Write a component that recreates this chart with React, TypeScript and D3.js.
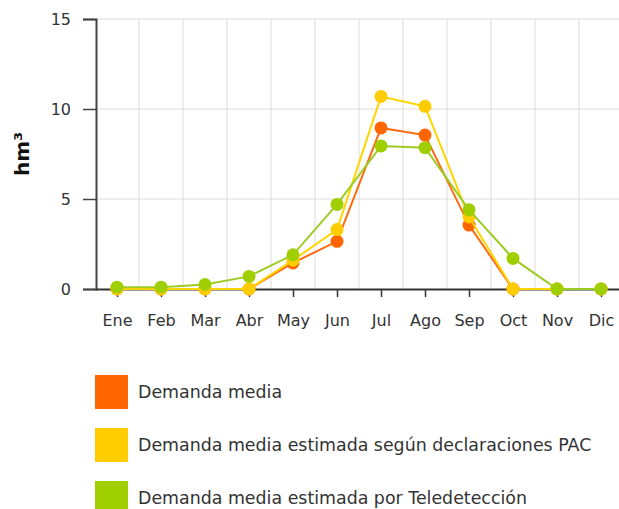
import * as d3 from "d3";
import { useEffect, useRef } from "react";

const months = ["Ene", "Feb", "Mar", "Abr", "May", "Jun", "Jul", "Ago", "Sep", "Oct", "Nov", "Dic"];
const demandaMedia = [0, 0, 0, 0, 1.45, 2.65, 8.95, 8.55, 3.55, 0, 0, 0];
const demandaPAC = [0, 0, 0, 0, 1.6, 3.3, 10.7, 10.15, 4.0, 0, 0, 0];
const demandaTele = [0.1, 0.1, 0.25, 0.7, 1.9, 4.7, 7.95, 7.85, 4.4, 1.7, 0, 0];
const yTicks = [0, 5, 10, 15];

const seriesNames = [
  "Demanda media",
  "Demanda media estimada según declaraciones PAC",
  "Demanda media estimada por Teledetección",
];
const seriesColors = ["#ff6600", "#ffcc00", "#9fcf00"];
const lineColors = ["#ff6a10", "#ffd500", "#9ccc22"];

const width = 619;
const height = 509;
const margin = { top: 19, left: 96, bottom: 220 };
const plotBottom = 289;

const Chart = () => {
  const ref = useRef<SVGSVGElement>(null);

  useEffect(() => {
    const svg = d3.select(ref.current);
    svg.selectAll("*").remove();

    const x = d3.scalePoint().domain(months).range([117, 601]);
    const step = x.step();
    const y = d3.scaleLinear().domain([0, 15]).range([plotBottom, margin.top]);

    // grid
    const grid = svg.append("g");
    grid.selectAll("line.h")
      .data(yTicks.filter((d) => d > 0))
      .join("line")
      .attr("x1", margin.left)
      .attr("x2", width)
      .attr("y1", (d) => y(d))
      .attr("y2", (d) => y(d))
      .attr("stroke", "#dcdcdc")
      .attr("stroke-width", 1);
    grid.selectAll("line.v")
      .data(months.slice(0, -1))
      .join("line")
      .attr("x1", (d) => (x(d) as number) + step / 2)
      .attr("x2", (d) => (x(d) as number) + step / 2)
      .attr("y1", margin.top)
      .attr("y2", plotBottom)
      .attr("stroke", "#dcdcdc")
      .attr("stroke-width", 1);

    // y axis
    const yAxis = d3.axisLeft(y).tickValues(yTicks).tickSize(13).tickPadding(12);
    const gy = svg.append("g")
      .attr("transform", `translate(${margin.left},0)`)
      .call(yAxis);
    gy.select(".domain").attr("stroke", "#444").attr("stroke-width", 2);
    gy.selectAll(".tick line").attr("stroke", "#444").attr("stroke-width", 1.5);
    gy.selectAll(".tick text")
      .attr("fill", "#333")
      .style("font-family", "DejaVu Sans, Verdana, sans-serif")
      .style("font-size", "16px");

    // x axis
    const xAxis = d3.axisBottom(x).tickSize(8).tickPadding(18).tickSizeOuter(0);
    const gx = svg.append("g")
      .attr("transform", `translate(0,${plotBottom})`)
      .call(xAxis);
    gx.select(".domain")
      .attr("d", `M${margin.left},0.5H${width}`)
      .attr("stroke", "#333")
      .attr("stroke-width", 2);
    gx.selectAll(".tick line").attr("stroke", "#333").attr("stroke-width", 1.5);
    gx.selectAll(".tick text")
      .attr("fill", "#333")
      .style("font-family", "DejaVu Sans, Verdana, sans-serif")
      .style("font-size", "16px");

    // y label
    svg.append("text")
      .attr("transform", `translate(29,154) rotate(-90)`)
      .attr("text-anchor", "middle")
      .attr("fill", "#111")
      .style("font-family", "DejaVu Sans, Verdana, sans-serif")
      .style("font-weight", "bold")
      .style("font-size", "20px")
      .text("hm³");

    // series
    const allSeries = [demandaMedia, demandaPAC, demandaTele];
    const line = d3.line<number>()
      .x((_, i) => x(months[i]) as number)
      .y((d) => y(d));

    allSeries.forEach((vals, si) => {
      const g = svg.append("g");
      g.append("path")
        .attr("d", line(vals))
        .attr("fill", "none")
        .attr("stroke", lineColors[si])
        .attr("stroke-width", 2);
      g.selectAll("circle")
        .data(vals)
        .join("circle")
        .attr("cx", (_, i) => x(months[i]) as number)
        .attr("cy", (d) => y(d))
        .attr("r", 6.5)
        .attr("fill", seriesColors[si]);
    });

    // legend
    const legend = svg.append("g");
    seriesNames.forEach((name, i) => {
      const ly = 375 + i * 53;
      legend.append("rect")
        .attr("x", 95)
        .attr("y", ly)
        .attr("width", 33)
        .attr("height", 34)
        .attr("fill", seriesColors[i]);
      legend.append("text")
        .attr("x", 138)
        .attr("y", ly + 17)
        .attr("dy", "0.35em")
        .attr("fill", "#333")
        .style("font-family", "DejaVu Sans, Verdana, sans-serif")
        .style("font-size", "17.4px")
        .text(name);
    });
  }, []);

  return <svg ref={ref} width={width} height={height} style={{ display: "block" }} />;
};

export default function App() {
  return (
    <div style={{ position: "absolute", left: 0, top: 0, background: "#fff" }}>
      <Chart />
    </div>
  );
}
